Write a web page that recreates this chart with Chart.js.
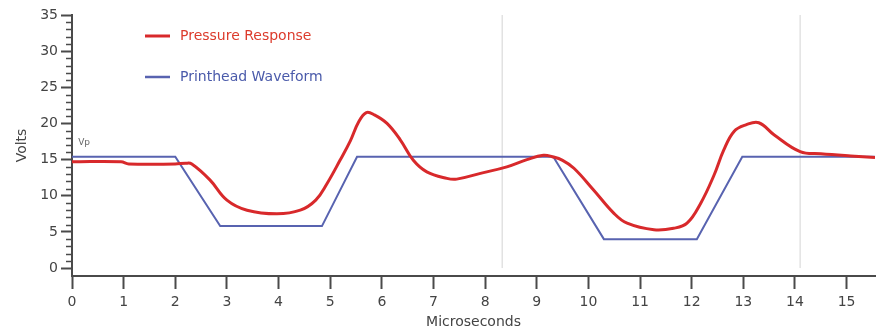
<!DOCTYPE html>
<html>
<head>
<meta charset="utf-8">
<script src="https://cdn.jsdelivr.net/npm/chart.js@4/dist/chart.umd.min.js"></script>
<style>
html,body{margin:0;padding:0;background:#fff;}
#wrap{width:882px;height:331px;position:relative;}
</style>
</head>
<body>
<div id="wrap"><canvas id="c" width="882" height="331"></canvas></div>
<script>
// ---- data ----
const seriesNames = ['Pressure Response', 'Printhead Waveform'];
const pressureX = [0, 0.95, 1.1, 2.0, 2.2, 2.32, 2.67, 3.0, 3.39, 3.97, 4.42, 4.72, 4.94, 5.19, 5.39, 5.55, 5.7, 5.85, 6.1, 6.36, 6.61, 6.87, 7.26, 7.45, 7.91, 8.42, 8.81, 9.13, 9.3, 9.5, 9.72, 10.1, 10.49, 10.75, 11.27, 11.65, 11.91, 12.17, 12.43, 12.62, 12.82, 13.05, 13.3, 13.6, 14.1, 14.5, 15.08, 15.55];
const pressureY = [14.7, 14.7, 14.4, 14.4, 14.5, 14.4, 12.2, 9.4, 8.0, 7.5, 8.0, 9.4, 11.7, 14.9, 17.6, 20.2, 21.5, 21.2, 20.0, 17.7, 14.9, 13.3, 12.4, 12.3, 13.1, 14.0, 15.0, 15.6, 15.4, 14.9, 13.8, 10.8, 7.6, 6.2, 5.3, 5.5, 6.2, 8.9, 12.8, 16.3, 18.9, 19.8, 20.1, 18.4, 16.1, 15.8, 15.5, 15.3];
const waveX = [0, 2.0, 2.87, 4.84, 5.52, 9.32, 10.3, 12.1, 12.98, 15.55];
const waveY = [15.4, 15.4, 5.8, 5.8, 15.4, 15.4, 4.0, 4.0, 15.4, 15.4];
const markerX = [8.33, 14.1];          // vertical gray reference lines
const markerRange = [0, 35];
const xTickValues = [0,1,2,3,4,5,6,7,8,9,10,11,12,13,14,15];
const yTickValues = [0,5,10,15,20,25,30,35];
const yMinorValues = [1,2,3,4,6,7,8,9,11,12,13,14,16,17,18,19,21,22,23,24,26,27,28,29,31,32,33,34];
const vpLabel = {text: 'Vp', x: 0.12, y: 17.3};

// ---- styles ----
const RED = '#d8292b', BLUE = '#5863b0', AXIS = '#4a4a4a', TXT = '#444';
const FONT = 'DejaVu Sans';

const toPts = (xs, ys) => xs.map((x, i) => ({x, y: ys[i]}));

const datasets = [
  {label: seriesNames[1], data: toPts(waveX, waveY), borderColor: BLUE, borderWidth: 2, pointRadius: 0, tension: 0, order: 2},
  {label: seriesNames[0], data: toPts(pressureX, pressureY), borderColor: RED, borderWidth: 3, pointRadius: 0, tension: 0.4, order: 1}
];
markerX.forEach(mx => datasets.push({label: '_marker', data: [{x: mx, y: markerRange[0]}, {x: mx, y: markerRange[1]}], borderColor: '#d4d4d4', borderWidth: 1, pointRadius: 0, order: 3}));

const extras = {
  id: 'extras',
  afterDraw(chart) {
    const ctx = chart.ctx, y = chart.scales.y, x = chart.scales.x;
    ctx.save();
    // minor y ticks
    ctx.strokeStyle = AXIS; ctx.lineWidth = 1.5;
    yMinorValues.forEach(v => {
      const py = Math.round(y.getPixelForValue(v)) + 0.5;
      ctx.beginPath(); ctx.moveTo(y.right - 6, py); ctx.lineTo(y.right, py); ctx.stroke();
    });
    // Vp label
    ctx.fillStyle = '#666'; ctx.font = '9px ' + FONT; ctx.textBaseline = 'middle'; ctx.textAlign = 'left';
    ctx.fillText(vpLabel.text, x.getPixelForValue(vpLabel.x), y.getPixelForValue(vpLabel.y));
    // legend
    const items = [{name: seriesNames[0], c: RED, t: '#dc3b2c', w: 3, py: 36}, {name: seriesNames[1], c: BLUE, t: '#4a5aaa', w: 2.5, py: 77}];
    ctx.font = '14px ' + FONT;
    items.forEach(it => {
      ctx.strokeStyle = it.c; ctx.lineWidth = it.w;
      ctx.beginPath(); ctx.moveTo(145, it.py); ctx.lineTo(170, it.py); ctx.stroke();
      ctx.fillStyle = it.t; ctx.fillText(it.name, 180, it.py);
    });
    ctx.restore();
  }
};

new Chart(document.getElementById('c'), {
  type: 'line',
  data: {datasets},
  options: {
    responsive: false,
    animation: false,
    events: [],
    layout: {padding: {top: 15, right: 7, left: 0, bottom: 0}},
    plugins: {legend: {display: false}, tooltip: {enabled: false}},
    scales: {
      x: {
        type: 'linear', min: 0, max: 15.55,
        afterBuildTicks: s => { s.ticks = xTickValues.map(v => ({value: v})); },
        afterFit: s => { s.height = 55; },
        grid: {drawOnChartArea: false, drawTicks: true, tickLength: 13, tickColor: AXIS, tickWidth: 2},
        border: {display: true, color: AXIS, width: 2},
        ticks: {color: TXT, font: {family: FONT, size: 14}, padding: 5, maxRotation: 0, autoSkip: false},
        title: {display: true, text: 'Microseconds', color: TXT, font: {family: FONT, size: 14}, padding: {top: 0, bottom: 0}}
      },
      y: {
        type: 'linear', min: -1.1, max: 35,
        afterBuildTicks: s => { s.ticks = yTickValues.map(v => ({value: v})); },
        afterFit: s => { s.width = 72; },
        grid: {drawOnChartArea: false, drawTicks: true, tickLength: 11, tickColor: AXIS, tickWidth: 2},
        border: {display: true, color: AXIS, width: 2},
        ticks: {color: TXT, font: {family: FONT, size: 14}, padding: 3},
        title: {display: true, text: 'Volts', color: TXT, font: {family: FONT, size: 14}, padding: {top: 14, bottom: 0}}
      }
    }
  },
  plugins: [extras]
});
</script>
</body>
</html>
